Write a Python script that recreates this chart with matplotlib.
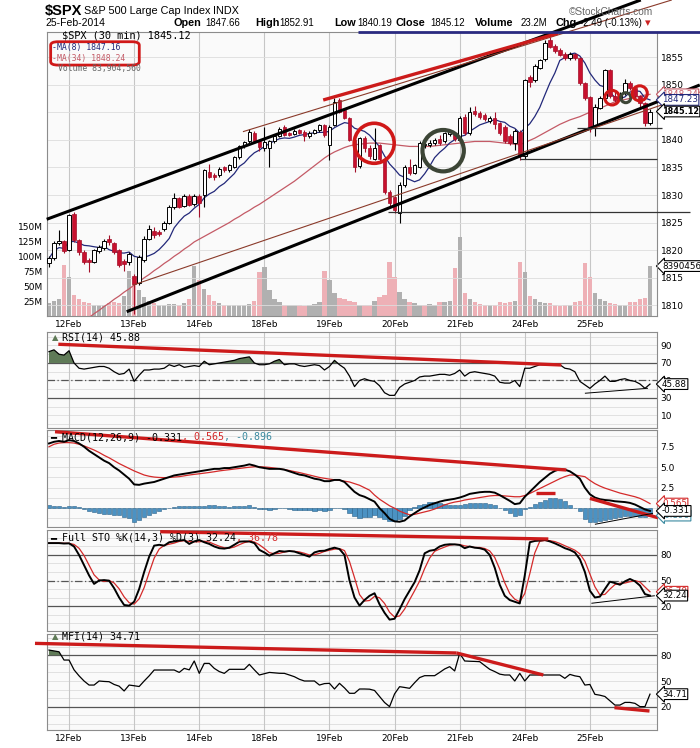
import numpy as np
import pandas as pd
import matplotlib
matplotlib.use('Agg')
import matplotlib.pyplot as plt
from matplotlib.patches import Ellipse, FancyBboxPatch

# $SPX 30 min bars, last 4 bars of 11 Feb through 25 Feb 2014
day_labels = ['12Feb', '13Feb', '14Feb', '18Feb', '19Feb', '20Feb', '21Feb', '24Feb', '25Feb']
day_start = [4, 17, 30, 43, 56, 69, 82, 95, 108]

opens = [1817.6, 1818.5, 1821.3, 1821.6, 1820.0, 1826.5, 1821.8, 1819.7, 1818.3, 1817.9,
         1819.9, 1820.4, 1822.0, 1821.3, 1820.0, 1818.1, 1817.8, 1815.4, 1814.0, 1818.2,
         1822.0, 1823.5, 1823.3, 1823.8, 1825.0, 1827.8, 1829.4, 1828.0, 1829.8, 1828.3,
         1829.9, 1830.0, 1834.2, 1833.6, 1833.6, 1835.0, 1834.5, 1835.1, 1836.8, 1838.9,
         1839.7, 1841.3, 1839.7, 1838.6, 1838.5, 1839.7, 1840.7, 1842.3, 1841.2, 1841.0,
         1841.7, 1841.5, 1840.6, 1841.2, 1841.7, 1842.6, 1839.1, 1842.7, 1847.2, 1845.4,
         1843.9, 1840.0, 1835.2, 1840.3, 1838.5, 1836.6, 1839.1, 1836.6, 1830.6, 1829.6,
         1826.7, 1831.8, 1835.1, 1834.0, 1835.1, 1839.0, 1839.0, 1839.4, 1840.2, 1839.7,
         1841.0, 1841.2, 1840.0, 1844.2, 1841.2, 1845.3, 1844.8, 1844.5, 1843.4, 1843.9,
         1843.0, 1842.4, 1840.7, 1839.5, 1841.5, 1837.0, 1851.4, 1850.8, 1853.0, 1854.6,
         1858.1, 1857.0, 1856.3, 1855.6, 1854.8, 1855.6, 1854.8, 1850.2, 1847.8, 1842.5,
         1845.8, 1847.5, 1852.6, 1847.9, 1847.5, 1848.5, 1850.2, 1849.4, 1847.9, 1846.6,
         1843.0]
highs = [1819.0, 1821.6, 1823.7, 1821.9, 1826.6, 1827.0, 1822.1, 1820.0, 1818.6, 1820.3,
         1821.0, 1822.0, 1822.7, 1821.5, 1820.3, 1818.4, 1819.7, 1815.7, 1819.1, 1822.5,
         1824.6, 1824.2, 1823.6, 1825.3, 1828.1, 1830.3, 1829.7, 1830.1, 1830.1, 1830.2,
         1830.2, 1834.8, 1835.7, 1834.0, 1835.0, 1835.3, 1835.6, 1837.0, 1839.1, 1839.8,
         1842.0, 1841.6, 1840.0, 1842.4, 1839.9, 1841.0, 1842.4, 1842.6, 1841.5, 1841.9,
         1842.0, 1841.8, 1841.6, 1842.0, 1842.8, 1842.9, 1842.6, 1847.5, 1847.5, 1845.6,
         1844.2, 1840.3, 1840.5, 1840.7, 1839.0, 1842.1, 1839.3, 1836.9, 1830.9, 1829.9,
         1832.3, 1835.5, 1836.6, 1835.7, 1839.8, 1839.6, 1839.9, 1840.4, 1840.8, 1841.5,
         1841.8, 1841.5, 1844.3, 1844.6, 1846.0, 1846.1, 1845.2, 1844.8, 1844.3, 1845.0,
         1843.3, 1842.7, 1841.0, 1841.9, 1841.8, 1851.1, 1851.7, 1853.7, 1854.7, 1858.0,
         1858.6, 1857.3, 1856.6, 1855.9, 1855.9, 1855.8, 1855.0, 1850.5, 1848.0, 1846.5,
         1848.0, 1852.9, 1852.8, 1848.6, 1848.7, 1851.0, 1850.7, 1849.8, 1848.2, 1846.9,
         1845.6]
lows = [1817.0, 1818.2, 1820.9, 1819.5, 1819.8, 1821.4, 1819.2, 1817.5, 1816.0, 1817.6,
        1819.5, 1820.1, 1821.0, 1819.4, 1817.0, 1816.2, 1817.4, 1808.5, 1813.7, 1817.8,
        1821.8, 1822.3, 1822.5, 1823.5, 1824.8, 1827.5, 1827.6, 1827.8, 1828.0, 1828.0,
        1826.0, 1827.9, 1833.1, 1832.8, 1833.3, 1834.2, 1834.2, 1834.9, 1836.5, 1838.6,
        1839.4, 1839.4, 1837.9, 1838.0, 1835.1, 1839.4, 1840.5, 1840.6, 1840.6, 1840.8,
        1841.0, 1839.7, 1840.3, 1841.0, 1841.5, 1840.5, 1836.3, 1842.5, 1844.8, 1843.8,
        1839.8, 1834.2, 1834.9, 1837.8, 1836.5, 1836.4, 1836.2, 1830.2, 1827.9, 1826.8,
        1824.9, 1831.5, 1833.6, 1833.8, 1834.9, 1838.6, 1838.7, 1839.1, 1839.0, 1839.4,
        1840.7, 1839.8, 1839.8, 1840.9, 1840.9, 1844.3, 1843.8, 1843.4, 1843.1, 1842.0,
        1840.9, 1839.5, 1839.0, 1838.2, 1836.3, 1836.6, 1849.6, 1850.5, 1852.8, 1854.3,
        1856.6, 1855.8, 1855.1, 1854.5, 1854.5, 1854.5, 1849.9, 1847.2, 1841.5, 1840.6,
        1845.5, 1847.2, 1847.5, 1846.9, 1847.2, 1848.2, 1849.0, 1847.6, 1846.0, 1842.5,
        1842.7]
closes = [1818.5, 1821.3, 1821.6, 1819.9, 1826.4, 1821.8, 1819.6, 1817.9, 1817.8, 1820.0,
          1820.5, 1821.7, 1821.4, 1819.6, 1817.3, 1817.5, 1819.3, 1813.9, 1818.8, 1822.0,
          1823.8, 1822.8, 1822.9, 1825.0, 1827.8, 1829.4, 1827.9, 1829.8, 1828.2, 1829.9,
          1828.5, 1834.5, 1833.3, 1833.2, 1834.8, 1834.5, 1835.4, 1836.8, 1838.9, 1839.6,
          1841.5, 1839.7, 1838.7, 1839.6, 1839.7, 1840.7, 1842.0, 1840.8, 1840.9, 1841.6,
          1841.2, 1840.6, 1841.3, 1841.8, 1842.6, 1840.8, 1842.4, 1846.9, 1845.1, 1844.0,
          1840.0, 1835.0, 1840.3, 1838.5, 1837.0, 1838.6, 1836.6, 1830.6, 1828.5, 1827.3,
          1831.8, 1835.1, 1833.9, 1835.4, 1839.4, 1839.3, 1839.4, 1839.9, 1839.4, 1841.2,
          1841.4, 1840.1, 1843.9, 1841.2, 1845.1, 1844.6, 1844.1, 1843.7, 1843.9, 1842.9,
          1841.2, 1839.8, 1839.5, 1841.6, 1837.0, 1850.8, 1850.5, 1853.4, 1854.4, 1857.6,
          1856.9, 1856.1, 1855.4, 1854.8, 1855.6, 1854.8, 1850.2, 1847.5, 1842.4, 1846.0,
          1847.5, 1852.6, 1847.9, 1847.3, 1848.3, 1850.2, 1849.4, 1847.9, 1846.6, 1843.0,
          1845.12]
volume_m = [22, 26, 29, 85, 65, 36, 29, 23, 22, 19,
            19, 18, 22, 23, 22, 33, 75, 54, 43, 32,
            26, 22, 19, 19, 21, 21, 19, 22, 29, 84,
            60, 46, 35, 26, 22, 18, 18, 18, 18, 18,
            21, 26, 74, 82, 43, 29, 23, 18, 18, 18,
            18, 16, 18, 21, 23, 76, 60, 38, 31, 29,
            26, 23, 18, 18, 18, 26, 32, 35, 91, 66,
            40, 29, 23, 22, 18, 19, 21, 18, 23, 23,
            26, 80, 133, 38, 29, 23, 21, 19, 18, 19,
            23, 22, 23, 25, 91, 74, 33, 29, 23, 22,
            22, 18, 16, 18, 19, 23, 25, 89, 66, 38,
            29, 26, 22, 21, 18, 18, 23, 23, 28, 30,
            83.9]
ma34 = [1802.6, 1803.3, 1803.9, 1804.6, 1805.2, 1805.9, 1806.5, 1807.2, 1807.8, 1808.5,
        1809.1, 1809.8, 1810.4, 1811.1, 1811.7, 1812.4, 1813.0,
        1813.7, 1814.3, 1815.0, 1815.6, 1816.3, 1816.9, 1817.6, 1818.2, 1818.9, 1819.5, 1820.2, 1820.8, 1821.5,
        1822.0, 1822.5, 1823.0, 1823.5, 1824.0, 1824.5, 1825.0, 1825.6, 1826.1, 1826.7, 1827.2, 1827.8, 1828.3,
        1828.9, 1829.5, 1830.1, 1830.7, 1831.3, 1831.9, 1832.5, 1833.2, 1833.9, 1834.6, 1835.3, 1836.0, 1836.7,
        1837.3, 1837.8, 1838.2, 1838.6, 1838.9, 1839.1, 1839.2, 1839.3, 1839.4, 1839.4, 1839.4, 1839.3, 1839.2,
        1839.1, 1839.0, 1838.9, 1838.8, 1838.8, 1838.8, 1838.8, 1838.8, 1838.9, 1839.0, 1839.1, 1839.2, 1839.3,
        1839.4, 1839.5, 1839.6, 1839.7, 1839.7, 1839.7, 1839.7, 1839.6, 1839.5, 1839.4, 1839.3, 1839.2, 1839.1,
        1839.5, 1839.9, 1840.3, 1840.8, 1841.3, 1841.8, 1842.3, 1842.8, 1843.2, 1843.6, 1843.9, 1844.2, 1844.6,
        1845.0, 1845.4, 1845.7, 1846.1, 1846.5, 1846.9, 1847.1, 1847.3, 1847.5, 1847.7, 1847.9, 1848.1, 1848.24]
rsi = [83, 85, 80, 79, 84, 70, 64, 63, 64, 65,
       66, 66, 64, 60, 57, 58, 63, 49, 56, 62,
       62, 63, 63, 64, 68, 66, 68, 65, 66, 67,
       66, 72, 68, 69, 70, 71, 72, 73, 75, 76,
       77, 70, 68, 68, 69, 72, 74, 68, 69, 69,
       67, 66, 67, 68, 67, 62, 66, 73, 68, 64,
       55, 43, 50, 52, 50, 49, 44, 36, 33, 33,
       42, 46, 48, 50, 54, 55, 55, 56, 57, 57,
       56, 58, 62, 55, 59, 60, 59, 58, 57, 55,
       48, 47, 47, 50, 43, 64, 64, 66, 68, 68,
       68, 68, 68, 64, 63, 60, 49, 45, 41, 46,
       50, 55, 49, 49, 51, 52, 50, 49, 46, 41,
       45.88]
macd = [7.9, 8.1, 8.2, 8.1, 8.3, 8.2, 7.9, 7.5, 7.0, 6.6,
        6.2, 5.8, 5.5, 5.0, 4.6, 4.1, 3.6, 2.9, 2.85, 3.0,
        3.1, 3.2, 3.4, 3.6, 3.8, 4.0, 4.1, 4.2, 4.3, 4.4,
        4.5, 4.6, 4.7, 4.8, 4.8, 4.9, 4.9, 5.0, 5.1, 5.2,
        5.35, 5.2, 5.0, 4.9, 4.8, 4.8, 4.8, 4.7, 4.5, 4.3,
        4.1, 4.0, 3.8, 3.6, 3.5, 3.3, 3.3, 3.45, 3.45, 3.2,
        2.6, 2.0, 1.6, 1.4, 1.1, 0.8, 0.0, -0.6, -1.3, -1.6,
        -1.65, -1.5, -1.0, -0.6, -0.2, 0.1, 0.4, 0.6, 0.8, 0.95,
        1.05, 1.15, 1.3, 1.5, 1.75, 1.85, 1.95, 2.0, 2.0, 1.9,
        1.6, 1.25, 0.9, 0.5, 0.6, 1.4, 2.0, 2.6, 3.2, 3.7,
        4.2, 4.55, 4.75, 4.7, 4.5, 4.1, 3.6, 2.5, 1.7, 1.3,
        1.1, 1.0, 0.95, 0.85, 0.8, 0.75, 0.65, 0.45, 0.15, -0.15,
        -0.331]
macd_signal = [7.5, 7.8, 7.95, 8.0, 8.0, 7.95, 7.8, 7.6, 7.35, 7.1,
               6.8, 6.45, 6.15, 5.8, 5.45, 5.15, 4.85, 4.55, 4.3, 4.05,
               3.9, 3.8, 3.75, 3.73, 3.75, 3.8, 3.85, 3.95, 4.05, 4.13,
               4.2, 4.28, 4.36, 4.45, 4.55, 4.63, 4.7, 4.78, 4.85, 4.93,
               5.0, 5.06, 5.06, 5.03, 4.98, 4.9, 4.82, 4.72, 4.6, 4.47,
               4.35, 4.2, 4.05, 3.9, 3.75, 3.65, 3.55, 3.47, 3.4, 3.3,
               3.2, 3.0, 2.8, 2.5, 2.2, 1.6, 1.1, 0.7, 0.3, 0.0,
               -0.35, -0.6, -0.8, -0.75, -0.6, -0.45, -0.3, -0.1, 0.15, 0.4,
               0.6, 0.75, 0.85, 1.0, 1.1, 1.2, 1.3, 1.4, 1.5, 1.55,
               1.55, 1.5, 1.45, 1.4, 1.4, 1.55, 1.8, 2.1, 2.4, 2.7,
               3.0, 3.3, 3.6, 3.85, 4.05, 4.05, 3.95, 3.85, 3.4, 3.0,
               2.7, 2.45, 2.25, 2.05, 1.85, 1.7, 1.55, 1.4, 1.2, 0.9,
               0.565]
sto_k = [94, 94, 94, 93.5, 93.7, 90, 80, 68, 56, 46,
         50, 50.5, 49.8, 41, 30, 21.2, 20.4, 25, 40, 60,
         78, 91, 92, 91, 95, 96, 97, 97.6, 93, 96,
         97.6, 95, 93, 90, 88, 87.5, 88.6, 92, 95.7, 96,
         96, 94, 86, 83, 79.2, 82, 84.7, 84, 84.7, 84,
         82, 80, 78, 83, 84.7, 85, 87, 88.6, 87, 80,
         50, 30, 20.4, 27, 32, 35, 22, 12, 4, 5,
         16, 28, 38, 48, 62, 82, 85, 86, 90, 92,
         92.6, 92.5, 91.8, 88, 90, 88.6, 88, 86.3, 80, 65,
         45, 32, 27, 25, 23, 56, 95, 96.5, 97, 97.6,
         96, 93.7, 91, 88, 86, 83, 75, 60, 38, 30,
         31, 40, 48.6, 47, 45, 49, 51.8, 49, 44, 34,
         32.24]
mfi = [86, 85, 84, 74.4, 74.4, 63, 56, 50, 45.3, 45.3,
       50, 49.5, 49.2, 46, 44, 38.4, 45.3, 44.5, 43.6, 50,
       56, 62.8, 62.8, 62.8, 62.8, 62.8, 60, 64.7, 63, 73.3,
       58.9, 70.5, 70.5, 64.7, 61, 58.9, 63.6, 63.6, 63.6, 63.6,
       69.4, 63, 57, 58.5, 60, 59.5, 59, 58.9, 57, 55,
       52, 50, 50, 50, 45.3, 47, 47.3, 40.7, 47.3, 42,
       35.7, 35.7, 40.7, 40.7, 40.5, 39, 32, 25, 20.2, 35,
       43.4, 42.5, 41.5, 48, 54, 56.2, 56.2, 56.2, 60, 64,
       66.7, 61.7, 82.2, 73.3, 73, 72.8, 72.5, 68, 63.6, 61,
       58, 57, 57, 50, 58.9, 50, 57, 57, 57, 57,
       57, 57, 57, 53.1, 57.7, 56, 55, 45.3, 46, 34.5,
       33.5, 32, 27, 22, 22, 25.1, 25.1, 24, 20.2, 20.2,
       34.71]

# hand-drawn annotations, in (bar, value) coordinates
price_lines = [  # (x0, x1, y0, y1, color, width)
    (-0.46, 118.16, 1825.60, 1865.33, 'black', 2.2),
    (15.51, 129.94, 1808.86, 1849.93, 'black', 2.2),
    (38.72, 124.35, 1841.47, 1865.33, '#8a3a2a', 0.8),
    (16.83, 129.94, 1813.70, 1848.66, '#8a3a2a', 0.8),
    (54.75, 101.60, 1847.21, 1859.29, '#cc1b1b', 2.4),
    (61.68, 129.94, 1859.47, 1859.47, '#2a2a80', 2.0),
    (105.33, 122.30, 1842.10, 1842.10, '#333333', 0.9),
    (94.00, 121.30, 1836.60, 1836.60, '#333333', 0.9),
    (67.66, 127.90, 1827.00, 1827.00, '#333333', 0.9),
]
price_circles = [  # (x, y, width in bars, height in points, color, width)
    (64.93, 1839.37, 7.98, 7.25, '#d01818', 2.6),
    (78.70, 1838.03, 8.26, 7.50, '#3c4536', 3.0),
    (112.43, 1847.63, 2.91, 2.64, '#d01818', 2.2),
    (115.17, 1847.63, 2.00, 1.81, '#3c4536', 2.2),
    (117.96, 1848.42, 3.00, 2.72, '#d01818', 2.2),
]
rsi_lines = [(1.86, 102.3, 91.4, 67.7, '#cc1b1b', 2.4), (107.0, 119.6, 35.4, 41.1, 'black', 0.7)]
macd_lines = [(1.2, 103.3, 9.33, 4.66, '#cc1b1b', 2.4), (97.3, 101.0, 1.82, 1.82, '#cc1b1b', 2.4),
              (108.0, 121.6, 1.2, -1.16, '#cc1b1b', 2.4), (109.0, 120.6, -1.96, -0.62, 'black', 0.7)]
sto_lines = [(22.2, 99.7, 107.4, 98.8, '#cc1b1b', 2.4), (108.3, 120.97, 23.2, 32.1, 'black', 0.7)]
mfi_lines = [(-2.8, 81.4, 93.8, 82.6, '#cc1b1b', 2.4), (81.4, 98.7, 82.6, 57.0, '#cc1b1b', 2.4),
             (112.9, 119.9, 19.0, 15.1, '#cc1b1b', 2.4)]

# derived series
ma8 = pd.Series(closes).rolling(8, min_periods=1).mean().values
sto_d = pd.Series(sto_k).rolling(3, min_periods=1).mean().values
hist = np.array(macd) - np.array(macd_signal)

W, H = 700, 748
plt.rcParams['font.family'] = 'DejaVu Sans'
fig = plt.figure(figsize=(W / 100, H / 100), dpi=100)
fig.patch.set_facecolor('white')

x = np.arange(len(closes))
XLIM = (-0.4, 121.3)
BG = '#fafafa'
GRID = '#dddddd'
VGRID = '#c6c6c6'
FRAME = '#8c8c8c'
TICK = 6.5
MONO = 'DejaVu Sans Mono'


def rect(left, top, right, bottom):
    return [left / W, 1 - bottom / H, (right - left) / W, (bottom - top) / H]


def panel(top, bottom, ylim, grid, dark=(), dashed=(), ticks=(), labels=None):
    a = fig.add_axes(rect(47, top, 656.5, bottom))
    a.set_facecolor(BG)
    a.set_xlim(*XLIM)
    a.set_ylim(*ylim)
    for g in grid:
        a.axhline(g, color=GRID, lw=0.6, zorder=0)
    for g in dark:
        a.axhline(g, color='#555555', lw=0.9, zorder=1)
    for g in dashed:
        a.axhline(g, color='#555555', lw=0.9, ls=(0, (6, 2, 1, 2)), zorder=1)
    for d in day_start:
        a.axvline(d, color=VGRID, lw=0.8, zorder=0)
    a.yaxis.tick_right()
    a.set_yticks(ticks)
    if labels is not None:
        a.set_yticklabels(labels)
    a.set_xticks(day_start)
    a.tick_params(axis='y', length=0, labelsize=TICK, pad=3)
    a.tick_params(axis='x', length=0, labelbottom=False)
    for s in a.spines.values():
        s.set_color(FRAME)
        s.set_linewidth(0.8)
    return a


def draw_lines(a, lines):
    for x0, x1, y0, y1, col, lw in lines:
        a.plot([x0, x1], [y0, y1], color=col, lw=lw, solid_capstyle='butt', clip_on=False, zorder=8)


def tag(a, y, s, ec='black', color='black', bold=False):
    a.text(1.009, y, s, transform=a.get_yaxis_transform(), ha='left', va='center',
           fontsize=5.9 if bold else 6.3, color=color, fontweight='bold' if bold else 'normal',
           bbox=dict(boxstyle='larrow,pad=0.1', fc='white', ec=ec, lw=0.8),
           clip_on=False, zorder=20)


def runs(x_px, y_px, parts, size, family=MONO):
    r = fig.canvas.get_renderer()
    for s, col in parts:
        t = fig.text(x_px / W, 1 - y_px / H, s, color=col, fontsize=size, family=family,
                     va='center', ha='left')
        x_px += t.get_window_extent(r).width


# ---- price + volume panel ----
axv = fig.add_axes(rect(47, 31.5, 656.5, 316))
axv.set_facecolor(BG)
axv.set_xlim(*XLIM)
axv.set_ylim(0, 478)
for d in day_start:
    axv.axvline(d, color=VGRID, lw=0.8, zorder=0)
vol_colors = ['#eeb0b6' if i > 0 and closes[i] < closes[i - 1] else '#b0b0b0' for i in x]
axv.bar(x, volume_m, width=0.86, color=vol_colors, zorder=1)
axv.set_yticks([25, 50, 75, 100, 125, 150])
axv.set_yticklabels(['25M', '50M', '75M', '100M', '125M', '150M'])
axv.tick_params(axis='y', length=0, labelsize=TICK, pad=3)
axv.tick_params(axis='x', length=0, labelbottom=False)
for s in axv.spines.values():
    s.set_visible(False)

ax = fig.add_axes(rect(47, 31.5, 656.5, 316), sharex=axv)
ax.set_facecolor('none')
ax.set_ylim(1808.08, 1859.62)
for p in range(1810, 1860, 5):
    ax.axhline(p, color=GRID, lw=0.6, zorder=0)
ax.yaxis.tick_right()
ax.set_yticks(range(1810, 1860, 5))
ax.tick_params(axis='y', length=0, labelsize=TICK, pad=3)
ax.set_xticks(day_start)
ax.set_xticklabels(day_labels)
ax.tick_params(axis='x', length=0, labelsize=TICK, pad=3)
for s in ax.spines.values():
    s.set_color(FRAME)
    s.set_linewidth(0.8)

o, h, l, c = (np.array(v) for v in (opens, highs, lows, closes))
up = c >= o
ax.plot(x, ma34, color='#c45a66', lw=0.9, zorder=3)
ax.plot(x, ma8, color='#22287a', lw=0.9, zorder=3)
ax.vlines(x[up], l[up], h[up], color='black', lw=0.8, zorder=4)
ax.vlines(x[~up], l[~up], h[~up], color='#a3102a', lw=0.8, zorder=4)
ax.bar(x[up], np.maximum(c - o, 0.1)[up], bottom=o[up], width=0.7,
       facecolor='white', edgecolor='black', lw=0.7, zorder=5)
ax.bar(x[~up], (o - c)[~up], bottom=c[~up], width=0.7,
       facecolor='#c8102e', edgecolor='#a3102a', lw=0.5, zorder=5)

draw_lines(ax, price_lines)
for cx, cy, w, hh, col, lw in price_circles:
    ax.add_patch(Ellipse((cx, cy), w, hh, fill=False, ec=col, lw=lw, clip_on=False, zorder=9))
ax.add_patch(FancyBboxPatch((0.006, 0.882), 0.1454, 0.082, boxstyle='round,pad=0,rounding_size=0.012',
                            transform=ax.transAxes, fill=False, ec='#d01818', lw=2.0, zorder=9))

tag(ax, ma34[-1], f'{ma34[-1]:.2f}', ec='#c45a66', color='#c45a66')
tag(ax, ma8[-1], f'{ma8[-1]:.2f}', ec='#22287a', color='#22287a')
tag(ax, closes[-1], f'{closes[-1]:.2f}', bold=True)
tag(axv, volume_m[-1], '83904560')

# ---- indicator panels ----
rsi_ax = panel(332, 428, (-4.3, 105.4), range(0, 101, 10), dark=[70, 30], dashed=[50],
               ticks=[10, 30, 50, 70, 90])
r = np.array(rsi)
rsi_ax.fill_between(x, 70, r, where=r > 70, interpolate=True, color='#5f7a57', lw=0, zorder=2)
rsi_ax.plot(x, r, color='black', lw=0.9, zorder=3)
draw_lines(rsi_ax, rsi_lines)
tag(rsi_ax, rsi[-1], f'{rsi[-1]:.2f}')

macd_ax = panel(430, 527, (-2.29, 9.54), np.arange(-1.25, 9.6, 1.25),
                ticks=[2.5, 5.0, 7.5], labels=['2.5', '5.0', '7.5'])
macd_ax.bar(x, hist, width=0.86, color='#4b92c3', edgecolor='#2b6288', lw=0.4, zorder=2)
macd_ax.plot(x, macd_signal, color='#d42a2a', lw=0.9, zorder=3)
macd_ax.plot(x, macd, color='black', lw=1.4, zorder=4)
draw_lines(macd_ax, macd_lines)
tag(macd_ax, hist[-1], f'{hist[-1]:.3f}', ec='#3a8aa0', color='#3a8aa0')
tag(macd_ax, macd_signal[-1], f'{macd_signal[-1]:.3f}', ec='#d42a2a', color='#d42a2a')
tag(macd_ax, macd[-1], f'{macd[-1]:.3f}')

sto_ax = panel(530, 631, (-9.4, 109.4), range(0, 101, 10), dark=[80, 20], dashed=[50],
               ticks=[20, 50, 80])
sto_ax.plot(x, sto_d, color='#d42a2a', lw=0.9, zorder=3)
sto_ax.plot(x, sto_k, color='black', lw=1.4, zorder=4)
draw_lines(sto_ax, sto_lines)
tag(sto_ax, sto_d[-1], '36.78', ec='#d42a2a', color='#d42a2a')
tag(sto_ax, sto_k[-1], f'{sto_k[-1]:.2f}')

mfi_ax = panel(634, 730, (-7, 104.7), range(0, 101, 10), dark=[80, 20], ticks=[20, 50, 80])
m = np.array(mfi)
mfi_ax.fill_between(x, 80, m, where=m > 80, interpolate=True, color='#5f7a57', lw=0, zorder=2)
mfi_ax.plot(x, m, color='black', lw=0.9, zorder=3)
draw_lines(mfi_ax, mfi_lines)
tag(mfi_ax, mfi[-1], f'{mfi[-1]:.2f}')
mfi_ax.set_xticklabels(day_labels)
mfi_ax.tick_params(axis='x', labelbottom=True, labelsize=TICK, pad=3)

# ---- header and legends ----
SANS = 'Liberation Sans'
fig.text(45 / W, 1 - 11 / H, '$SPX', fontsize=10.5, fontweight='bold', family=SANS, va='center')
fig.text(84 / W, 1 - 11 / H, 'S&P 500 Large Cap Index', fontsize=7.8, family=SANS, va='center')
fig.text(213 / W, 1 - 11 / H, 'INDX', fontsize=7.8, family=SANS, va='center')
fig.text(569 / W, 1 - 12 / H, '©StockCharts.com', fontsize=7.3, family=SANS, color='#666666', va='center')
fig.text(45 / W, 1 - 23.5 / H, '25-Feb-2014', fontsize=7.5, family=SANS, va='center')
header = [(173, 'Open', True), (205, '1847.66', False), (255, 'High', True), (279, '1852.91', False),
          (334, 'Low', True), (357, '1840.19', False), (396, 'Close', True), (430, '1845.12', False),
          (475, 'Volume', True), (521, '23.2M', False), (556, 'Chg', True), (580, '-2.49 (-0.13%)', False)]
for hx, s, bold in header:
    fig.text(hx / W, 1 - 23.5 / H, s, fontsize=7.8 if bold else 6.9, family=SANS,
             fontweight='bold' if bold else 'normal', va='center')
fig.text(645 / W, 1 - 23.5 / H, '▾', fontsize=8, color='#cc2222', va='center')

fig.text(61.5 / W, 1 - 36 / H, '$SPX (30 min) 1845.12', fontsize=7.4, family=MONO, va='center')
runs(52, 47.3, [('-', '#22287a'), ('MA(8) 1847.16', '#22287a')], 5.9)
runs(52, 58.3, [('-', '#c45a66'), ('MA(34) 1848.24', '#c45a66')], 5.9)
fig.text(58 / W, 1 - 69 / H, 'Volume 83,904,560', fontsize=5.9, family=MONO, color='#666666', va='center')

fig.text(52 / W, 1 - 338 / H, '▲', fontsize=6, color='#5f7a57', va='center')
fig.text(61.7 / W, 1 - 338 / H, 'RSI(14) 45.88', fontsize=7.2, family=MONO, va='center')
fig.text(50 / W, 1 - 437.3 / H, '━', fontsize=7.2, color='black', va='center')
runs(61.7, 437.3, [('MACD(12,26,9) -0.331', 'black'), (', 0.565', '#d42a2a'), (', -0.896', '#3a8aa0')], 7.2)
fig.text(50 / W, 1 - 537.7 / H, '━', fontsize=7.2, color='black', va='center')
runs(61.7, 537.7, [('Full STO %K(14,3) %D(3) 32.24', 'black'), (', 36.78', '#d42a2a')], 7.2)
fig.text(52 / W, 1 - 636.7 / H, '▲', fontsize=6, color='#5f7a57', va='center')
fig.text(61.7 / W, 1 - 636.7 / H, 'MFI(14) 34.71', fontsize=7.2, family=MONO, va='center')

fig.savefig('out.png', dpi=100, facecolor='white')
